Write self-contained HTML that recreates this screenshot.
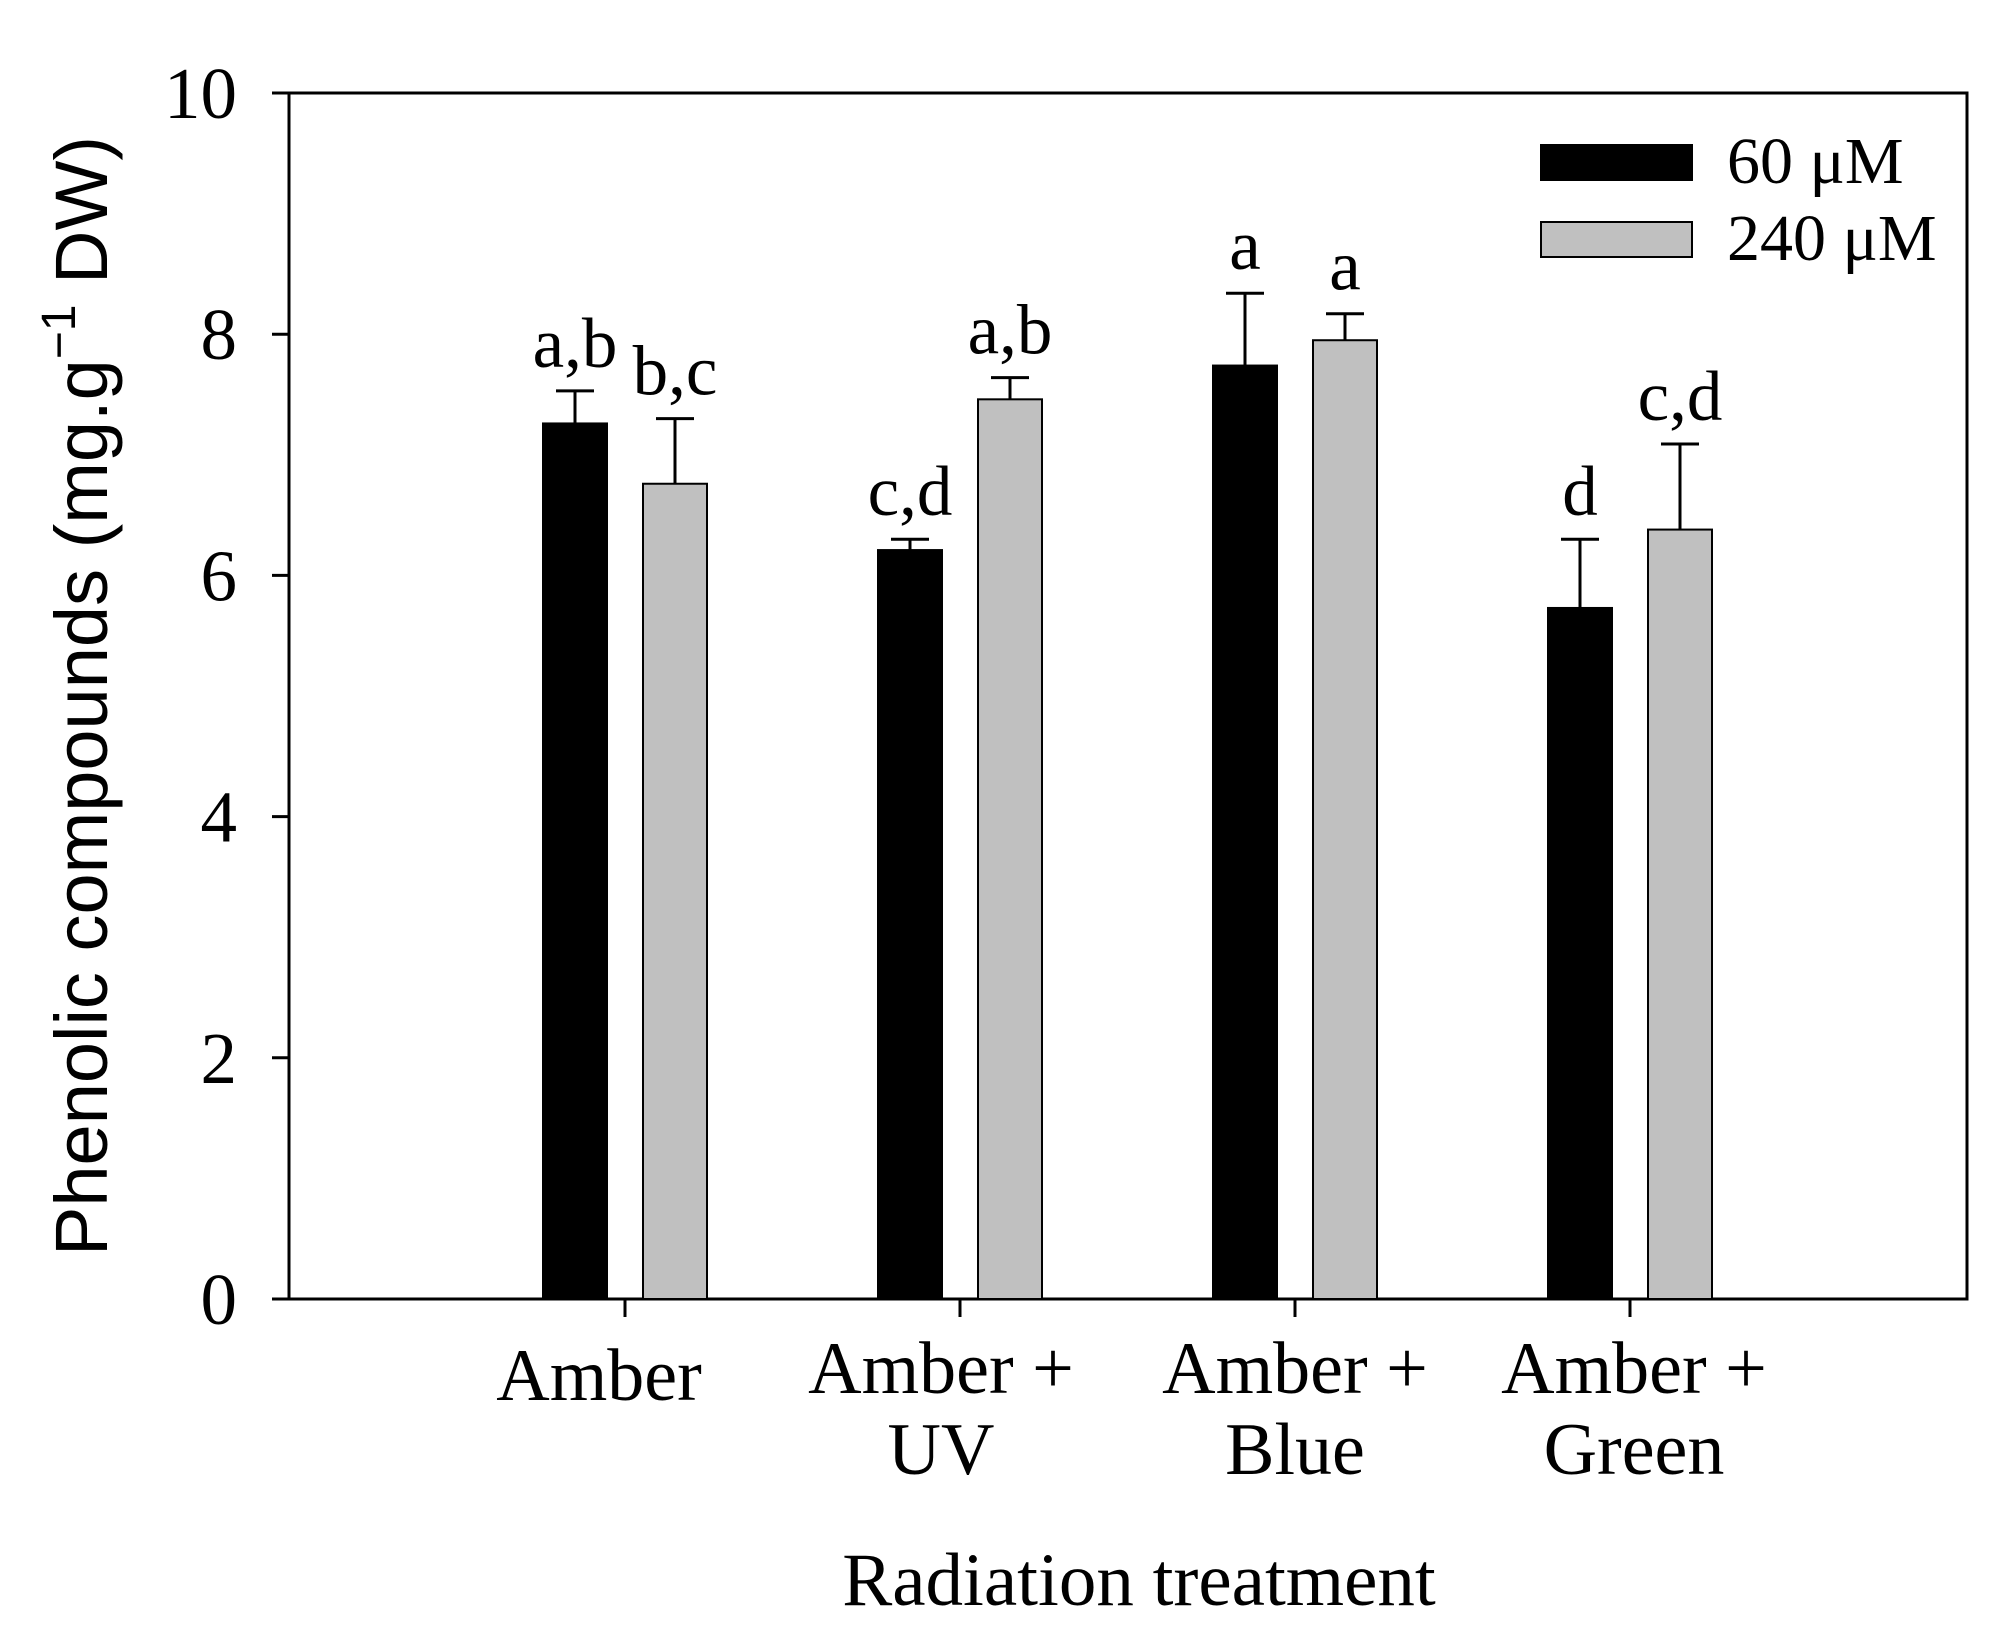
<!DOCTYPE html>
<html><head><meta charset="utf-8"><style>
html,body{margin:0;padding:0;background:#fff;}
svg text{font-family:"Liberation Serif",serif;fill:#000;}
</style></head><body>
<svg id="chart" width="2011" height="1643" viewBox="0 0 2011 1643" xmlns="http://www.w3.org/2000/svg">
<g id="plot"></g>
</svg>
<script>
const categories = [["Amber"],["Amber +","UV"],["Amber +","Blue"],["Amber +","Green"]];
const series60 = [7.26, 6.21, 7.74, 5.73];
const err60 = [0.27, 0.09, 0.60, 0.57];
const series240 = [6.76, 7.46, 7.95, 6.38];
const err240 = [0.54, 0.18, 0.22, 0.71];
const letters60 = ["a,b","c,d","a","d"];
const letters240 = ["b,c","a,b","a","c,d"];
const yTicks = [0,2,4,6,8,10];

const NS="http://www.w3.org/2000/svg";
const g=document.getElementById('plot');
const L=289,R=1967,T=93,B=1299;
const y=v=>B-(B-T)*v/10;
const xc=i=>625+335*i;
const labelShift=[-26,-19,0,4];
function mk(tag,attrs,txt){const e=document.createElementNS(NS,tag);for(const k in attrs)e.setAttribute(k,attrs[k]);if(txt!==undefined)e.textContent=txt;g.appendChild(e);return e;}

let f=mk('rect',{x:L,y:T,width:R-L,height:B-T,fill:'none',stroke:'#000','stroke-width':3});



yTicks.forEach(t=>{
  const l=mk('line',{x1:L-17,x2:L,y1:y(t),y2:y(t),stroke:'#000','stroke-width':3});
  
  
  const tx=mk('text',{x:L-52,y:y(t)+25,'text-anchor':'end','font-size':73},String(t));
  
  
});

const bw=64, off=50;
function bar(cx,v,e,fill,lab,name){
  const r=mk('rect',{x:cx-bw/2,y:y(v),width:bw,height:B-y(v),fill:fill,stroke:'#000','stroke-width':2});
  
  
  const eb=mk('path',{d:`M${cx},${y(v)} V${y(v+e)} M${cx-19},${y(v+e)} H${cx+19}`,stroke:'#000','stroke-width':3,fill:'none'});
  
  
  const t=mk('text',{x:cx,y:y(v+e)-24,'text-anchor':'middle','font-size':71},lab);
  
  
}
categories.forEach((c,i)=>{
  const cx=xc(i);
  bar(cx-off,series60[i],err60[i],'#000',letters60[i],'bar-60uM');
  bar(cx+off,series240[i],err240[i],'#c0c0c0',letters240[i],'bar-240uM');
  const tk=mk('line',{x1:cx,x2:cx,y1:B,y2:B+18,stroke:'#000','stroke-width':3});
  
  
  const tx=mk('text',{x:cx,y:c.length===1?1400:1393,'text-anchor':'middle','font-size':74});
  
  
  c.forEach((s,j)=>{const ts=document.createElementNS(NS,'tspan');ts.setAttribute('x',cx+labelShift[i]);ts.setAttribute('dy',j?81:0);ts.textContent=s;tx.appendChild(ts);});
});

[['#000','60 μM',145],['#c0c0c0','240 μM',222]].forEach(([fc,lb,yy],k)=>{
  const r=mk('rect',{x:1541,y:yy,width:151,height:35,fill:fc,stroke:'#000','stroke-width':2});
  
  
  const t=mk('text',{x:1727,y:yy+38,'font-size':66},lb);
  
  
});

const xt=mk('text',{x:1139,y:1605,'text-anchor':'middle','font-size':75},'Radiation treatment');


const yt=mk('text',{transform:'translate(107,696) rotate(-90)','text-anchor':'middle','font-size':74,style:'font-family:"Liberation Sans",sans-serif'});


yt.innerHTML='Phenolic compounds (mg.g<tspan dy="-32" font-size="48">−1</tspan><tspan dy="32"> DW)</tspan>';
</script>
</body></html>
